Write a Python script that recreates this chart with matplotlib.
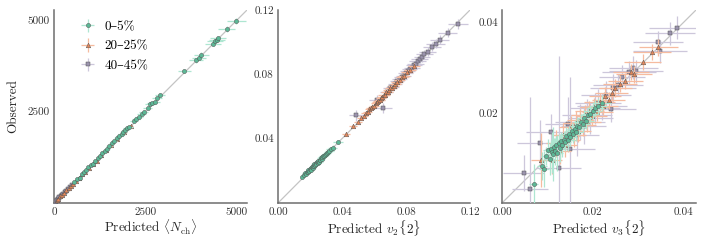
import matplotlib
matplotlib.use("Agg")
import matplotlib.pyplot as plt
import numpy as np

# ---------------- data ----------------
labels = ["0–5%", "20–25%", "40–45%"]

# Panel 1: <N_ch>
nch_g_pred = [560, 630, 700, 760, 820, 880, 940, 1000, 1060, 1130, 1200, 1260, 1320, 1390, 1450, 1510, 1580, 1650, 1720, 1790,
              1850, 1900, 1950, 2000, 2060, 2180, 2250, 2330, 2400, 2460, 2560, 2620, 2690, 2750, 2820, 2900, 3560, 3880, 3960, 4030,
              4340, 4400, 4450, 4490, 4720, 4990]
nch_g_obs = [575, 650, 690, 790, 850, 900, 980, 1030, 1080, 1150, 1230, 1290, 1360, 1420, 1470, 1560, 1630, 1700, 1770, 1830,
             1880, 1950, 1990, 2050, 2080, 2250, 2290, 2360, 2440, 2500, 2600, 2700, 2730, 2760, 2860, 2960, 3610, 3900, 3980, 4060,
             4360, 4420, 4470, 4510, 4760, 4980]
nch_g_xerr = [30, 32, 35, 38, 41, 44, 47, 50, 53, 57, 60, 63, 66, 70, 73, 76, 79, 83, 86, 90,
              93, 95, 98, 100, 103, 109, 113, 117, 120, 123, 128, 131, 135, 138, 141, 145, 178, 194, 198, 202,
              217, 220, 223, 225, 236, 250]
nch_g_yerr = [8, 9, 10, 11, 12, 13, 14, 15, 16, 17, 18, 19, 20, 21, 22, 23, 24, 25, 26, 27,
              28, 28, 29, 30, 31, 33, 34, 35, 36, 37, 38, 39, 40, 41, 42, 43, 53, 58, 59, 60,
              65, 66, 67, 67, 71, 75]

nch_o_pred = [70, 120, 170, 220, 280, 340, 400, 460, 530, 600, 680, 760, 850, 950, 1060, 1170, 1290, 1420, 1560, 1720, 1920, 2100]
nch_o_obs = [75, 115, 180, 230, 285, 350, 410, 470, 520, 615, 690, 780, 860, 960, 1080, 1160, 1300, 1440, 1580, 1740, 1950, 2110]
nch_o_xerr = [3, 5, 6, 8, 10, 12, 14, 16, 18, 20, 23, 26, 29, 32, 36, 40, 44, 48, 53, 58, 65, 71]
nch_o_yerr = [1, 2, 2, 3, 3, 4, 5, 5, 6, 7, 8, 9, 10, 11, 12, 13, 14, 16, 17, 19, 21, 23]

nch_p_pred = [20, 35, 55, 75, 100, 125, 150, 180, 215, 250, 290, 335, 380, 430, 490]
nch_p_obs = [22, 38, 52, 80, 98, 130, 155, 178, 220, 255, 295, 330, 390, 440, 500]
nch_p_xerr = [1, 1, 2, 2, 3, 4, 5, 5, 6, 8, 9, 10, 11, 13, 15]
nch_p_yerr = [1, 1, 1, 1, 1, 2, 2, 2, 3, 3, 3, 4, 4, 5, 5]

# Panel 2: v2{2}
v2_g_pred = [0.0150, 0.0160, 0.0168, 0.0175, 0.0180, 0.0186, 0.0190, 0.0195, 0.0200, 0.0204, 0.0208, 0.0212, 0.0216,
             0.0220, 0.0224, 0.0228, 0.0232, 0.0236, 0.0240, 0.0244, 0.0248, 0.0252, 0.0256, 0.0260, 0.0264, 0.0268,
             0.0272, 0.0277, 0.0282, 0.0287, 0.0292, 0.0298, 0.0305, 0.0312, 0.0320, 0.0330, 0.0342, 0.0375]
v2_g_obs = [0.0160, 0.0172, 0.0185, 0.0178, 0.0195, 0.0190, 0.0205, 0.0198, 0.0210, 0.0215, 0.0206, 0.0225, 0.0218,
            0.0232, 0.0228, 0.0240, 0.0235, 0.0248, 0.0243, 0.0255, 0.0250, 0.0262, 0.0258, 0.0270, 0.0266, 0.0278,
            0.0275, 0.0285, 0.0290, 0.0293, 0.0300, 0.0305, 0.0310, 0.0318, 0.0325, 0.0335, 0.0345, 0.0380]
v2_g_xerr = [0.0015, 0.0015, 0.0016, 0.0016, 0.0017, 0.0017, 0.0017, 0.0018, 0.0018, 0.0018, 0.0019, 0.0019, 0.0019,
             0.0020, 0.0020, 0.0020, 0.0021, 0.0021, 0.0021, 0.0022, 0.0022, 0.0022, 0.0023, 0.0023, 0.0023, 0.0024,
             0.0024, 0.0024, 0.0025, 0.0025, 0.0025, 0.0026, 0.0026, 0.0027, 0.0027, 0.0028, 0.0028, 0.0030]
v2_g_yerr = [0.0006, 0.0006, 0.0006, 0.0007, 0.0007, 0.0007, 0.0007, 0.0008, 0.0008, 0.0008, 0.0008, 0.0008, 0.0009,
             0.0009, 0.0009, 0.0009, 0.0009, 0.0009, 0.0010, 0.0010, 0.0010, 0.0010, 0.0010, 0.0010, 0.0011, 0.0011,
             0.0011, 0.0011, 0.0011, 0.0011, 0.0012, 0.0012, 0.0012, 0.0012, 0.0013, 0.0013, 0.0013, 0.0014]

v2_o_pred = [0.0425, 0.0470, 0.0500, 0.0520, 0.0535, 0.0548, 0.0560, 0.0570, 0.0580, 0.0590, 0.0600, 0.0610, 0.0618,
             0.0626, 0.0635, 0.0643, 0.0652, 0.0660, 0.0668, 0.0676, 0.0685, 0.0693, 0.0702, 0.0712, 0.0722, 0.0732,
             0.0745, 0.0760, 0.0775, 0.0790, 0.0805, 0.0825, 0.0850]
v2_o_obs = [0.0430, 0.0480, 0.0505, 0.0530, 0.0540, 0.0560, 0.0565, 0.0582, 0.0588, 0.0600, 0.0605, 0.0620, 0.0625,
            0.0635, 0.0640, 0.0655, 0.0658, 0.0670, 0.0672, 0.0688, 0.0690, 0.0700, 0.0712, 0.0718, 0.0730, 0.0738,
            0.0752, 0.0765, 0.0782, 0.0792, 0.0812, 0.0828, 0.0852]
v2_o_xerr = [0.0025, 0.0026, 0.0027, 0.0027, 0.0028, 0.0028, 0.0029, 0.0029, 0.0029, 0.0030, 0.0030, 0.0030, 0.0031,
             0.0031, 0.0031, 0.0032, 0.0032, 0.0032, 0.0033, 0.0033, 0.0033, 0.0034, 0.0034, 0.0034, 0.0035, 0.0035,
             0.0036, 0.0036, 0.0037, 0.0037, 0.0038, 0.0038, 0.0039]
v2_o_yerr = [0.0012, 0.0012, 0.0012, 0.0013, 0.0013, 0.0013, 0.0013, 0.0013, 0.0014, 0.0014, 0.0014, 0.0014, 0.0014,
             0.0015, 0.0015, 0.0015, 0.0015, 0.0015, 0.0015, 0.0016, 0.0016, 0.0016, 0.0016, 0.0016, 0.0017, 0.0017,
             0.0017, 0.0017, 0.0018, 0.0018, 0.0018, 0.0019, 0.0019]

v2_p_pred = [0.0490, 0.0620, 0.0655, 0.0680, 0.0700, 0.0715, 0.0730, 0.0745, 0.0760, 0.0772, 0.0785, 0.0798, 0.0810,
             0.0822, 0.0835, 0.0848, 0.0860, 0.0872, 0.0885, 0.0900, 0.0915, 0.0935, 0.0960, 0.0985, 0.1010, 0.1060, 0.1125]
v2_p_obs = [0.0545, 0.0640, 0.0590, 0.0690, 0.0715, 0.0722, 0.0742, 0.0758, 0.0770, 0.0785, 0.0790, 0.0810, 0.0818,
            0.0835, 0.0840, 0.0858, 0.0862, 0.0880, 0.0895, 0.0905, 0.0925, 0.0940, 0.0970, 0.0990, 0.1015, 0.1060, 0.1110]
v2_p_xerr = [0.0045, 0.0050, 0.0055, 0.0040, 0.0042, 0.0043, 0.0044, 0.0045, 0.0046, 0.0046, 0.0047, 0.0048, 0.0048,
             0.0049, 0.0050, 0.0050, 0.0051, 0.0052, 0.0052, 0.0053, 0.0054, 0.0055, 0.0056, 0.0057, 0.0058, 0.0060, 0.0062]
v2_p_yerr = [0.0035, 0.0030, 0.0030, 0.0022, 0.0022, 0.0022, 0.0023, 0.0023, 0.0023, 0.0024, 0.0024, 0.0024, 0.0025,
             0.0025, 0.0025, 0.0026, 0.0026, 0.0026, 0.0027, 0.0027, 0.0027, 0.0028, 0.0028, 0.0029, 0.0029, 0.0030, 0.0031]

# Panel 3: v3{2}
v3_g_pred = [0.0070, 0.0088, 0.0092, 0.0098, 0.0102, 0.0105, 0.0108, 0.0110, 0.0112, 0.0115, 0.0118, 0.0120, 0.0122,
             0.0125, 0.0128, 0.0130, 0.0133, 0.0136, 0.0139, 0.0142, 0.0145, 0.0148, 0.0151, 0.0154, 0.0157, 0.0160,
             0.0163, 0.0166, 0.0170, 0.0174, 0.0178, 0.0182, 0.0186, 0.0190, 0.0195, 0.0200, 0.0206, 0.0212, 0.0220]
v3_g_obs = [0.0042, 0.0082, 0.0075, 0.0105, 0.0118, 0.0098, 0.0120, 0.0112, 0.0108, 0.0125, 0.0115, 0.0128, 0.0110,
            0.0132, 0.0122, 0.0138, 0.0128, 0.0140, 0.0135, 0.0148, 0.0140, 0.0152, 0.0146, 0.0160, 0.0152, 0.0165,
            0.0158, 0.0170, 0.0168, 0.0180, 0.0175, 0.0188, 0.0182, 0.0195, 0.0198, 0.0205, 0.0210, 0.0215, 0.0222]
v3_g_xerr = [0.0010, 0.0011, 0.0011, 0.0011, 0.0012, 0.0012, 0.0012, 0.0012, 0.0012, 0.0013, 0.0013, 0.0013, 0.0013,
             0.0013, 0.0014, 0.0014, 0.0014, 0.0014, 0.0014, 0.0015, 0.0015, 0.0015, 0.0015, 0.0015, 0.0016, 0.0016,
             0.0016, 0.0016, 0.0017, 0.0017, 0.0017, 0.0017, 0.0018, 0.0018, 0.0018, 0.0019, 0.0019, 0.0019, 0.0020]
v3_g_yerr = [0.0045, 0.0030, 0.0040, 0.0020, 0.0025, 0.0035, 0.0020, 0.0045, 0.0060, 0.0020, 0.0030, 0.0020, 0.0040,
             0.0020, 0.0030, 0.0020, 0.0025, 0.0020, 0.0020, 0.0020, 0.0025, 0.0018, 0.0020, 0.0018, 0.0020, 0.0018,
             0.0020, 0.0018, 0.0018, 0.0018, 0.0018, 0.0018, 0.0018, 0.0018, 0.0018, 0.0018, 0.0018, 0.0018, 0.0018]

v3_o_pred = [0.0085, 0.0110, 0.0120, 0.0128, 0.0135, 0.0140, 0.0146, 0.0152, 0.0158, 0.0163, 0.0168, 0.0173, 0.0178,
             0.0183, 0.0188, 0.0193, 0.0198, 0.0204, 0.0210, 0.0216, 0.0222, 0.0228, 0.0235, 0.0242, 0.0250, 0.0260,
             0.0272, 0.0285, 0.0292, 0.0310, 0.0330, 0.0345]
v3_o_obs = [0.0095, 0.0095, 0.0132, 0.0115, 0.0150, 0.0128, 0.0140, 0.0168, 0.0150, 0.0178, 0.0160, 0.0185, 0.0172,
            0.0195, 0.0180, 0.0205, 0.0192, 0.0212, 0.0202, 0.0225, 0.0215, 0.0238, 0.0228, 0.0245, 0.0255, 0.0265,
            0.0270, 0.0290, 0.0285, 0.0312, 0.0335, 0.0345]
v3_o_xerr = [0.0020, 0.0022, 0.0023, 0.0024, 0.0025, 0.0025, 0.0026, 0.0027, 0.0028, 0.0028, 0.0029, 0.0030, 0.0030,
             0.0031, 0.0031, 0.0032, 0.0033, 0.0033, 0.0034, 0.0034, 0.0035, 0.0035, 0.0036, 0.0037, 0.0037, 0.0038,
             0.0039, 0.0040, 0.0040, 0.0041, 0.0042, 0.0043]
v3_o_yerr = [0.0060, 0.0030, 0.0030, 0.0028, 0.0028, 0.0027, 0.0027, 0.0026, 0.0026, 0.0025, 0.0025, 0.0024, 0.0024,
             0.0023, 0.0023, 0.0022, 0.0022, 0.0021, 0.0021, 0.0020, 0.0020, 0.0020, 0.0019, 0.0019, 0.0019, 0.0018,
             0.0018, 0.0018, 0.0018, 0.0018, 0.0018, 0.0018]

v3_p_pred = [0.0048, 0.0062, 0.0083, 0.0107, 0.0125, 0.0145, 0.0150, 0.0165, 0.0172, 0.0180, 0.0188, 0.0195, 0.0205,
             0.0212, 0.0220, 0.0230, 0.0240, 0.0245, 0.0255, 0.0265, 0.0280, 0.0290, 0.0295, 0.0345, 0.0348, 0.0370, 0.0385]
v3_p_obs = [0.0066, 0.0031, 0.0134, 0.0157, 0.0077, 0.0175, 0.0120, 0.0150, 0.0180, 0.0170, 0.0195, 0.0188, 0.0210,
            0.0222, 0.0215, 0.0240, 0.0209, 0.0255, 0.0262, 0.0280, 0.0290, 0.0300, 0.0292, 0.0356, 0.0336, 0.0376, 0.0389]
v3_p_xerr = [0.0045, 0.0040, 0.0050, 0.0055, 0.0050, 0.0050, 0.0055, 0.0050, 0.0055, 0.0050, 0.0055, 0.0050, 0.0055,
             0.0050, 0.0055, 0.0055, 0.0055, 0.0050, 0.0055, 0.0050, 0.0060, 0.0055, 0.0060, 0.0055, 0.0060, 0.0055, 0.0060]
v3_p_yerr = [0.0040, 0.0205, 0.0050, 0.0040, 0.0250, 0.0060, 0.0160, 0.0045, 0.0040, 0.0040, 0.0035, 0.0035, 0.0035,
             0.0030, 0.0030, 0.0030, 0.0030, 0.0030, 0.0025, 0.0025, 0.0025, 0.0025, 0.0025, 0.0025, 0.0025, 0.0025, 0.0025]

# ---------------- style ----------------
plt.rcParams['font.family'] = ['cmr10', 'DejaVu Serif']
plt.rcParams['mathtext.fontset'] = 'cm'
plt.rcParams['axes.unicode_minus'] = False

mcolors = ['#5cb896', '#e5875a', '#9a93ad']
ecolors = ['#aee6d1', '#f6bb9f', '#cdc7db']
markers = ['o', '^', 's']
spine_col = '#6e6e6e'

fig = plt.figure(figsize=(7.06, 2.40), dpi=100)
axes = [fig.add_axes([54/706, 37/240, 193/706, 193/240]),
        fig.add_axes([278/706, 37/240, 192/706, 193/240]),
        fig.add_axes([502/706, 37/240, 194/706, 193/240])]

panels = [
    dict(data=[(nch_g_pred, nch_g_obs, nch_g_xerr, nch_g_yerr),
               (nch_o_pred, nch_o_obs, nch_o_xerr, nch_o_yerr),
               (nch_p_pred, nch_p_obs, nch_p_xerr, nch_p_yerr)],
         lim=5280, xticks=[0, 2500, 5000], yticks=[2500, 5000], fmt='{:.0f}',
         xlabel=r'Predicted $\langle N_{\rm ch}\rangle$'),
    dict(data=[(v2_g_pred, v2_g_obs, v2_g_xerr, v2_g_yerr),
               (v2_o_pred, v2_o_obs, v2_o_xerr, v2_o_yerr),
               (v2_p_pred, v2_p_obs, v2_p_xerr, v2_p_yerr)],
         lim=0.12, xticks=[0, 0.04, 0.08, 0.12], yticks=[0.04, 0.08, 0.12], fmt='{:.2f}',
         xlabel=r'Predicted $v_2\{2\}$'),
    dict(data=[(v3_g_pred, v3_g_obs, v3_g_xerr, v3_g_yerr),
               (v3_o_pred, v3_o_obs, v3_o_xerr, v3_o_yerr),
               (v3_p_pred, v3_p_obs, v3_p_xerr, v3_p_yerr)],
         lim=0.0428, xticks=[0, 0.02, 0.04], yticks=[0.02, 0.04], fmt='{:.2f}',
         xlabel=r'Predicted $v_3\{2\}$'),
]

handles = []
for ax, p in zip(axes, panels):
    lim = p['lim']
    ax.plot([0, lim], [0, lim], color='#c4c4c4', lw=0.9, zorder=1)
    for i in [2, 1, 0]:
        x, y, xe, ye = p['data'][i]
        h = ax.errorbar(x, y, xerr=xe, yerr=ye, fmt=markers[i],
                        ms=3.0 if i != 1 else 3.3,
                        mfc=mcolors[i], mec='#555555', mew=0.35,
                        ecolor=ecolors[i], elinewidth=0.9, capsize=0,
                        zorder=3 + (2 - i), label=labels[i])
        if ax is axes[0]:
            handles.append(h)
    ax.set_xlim(0, lim)
    ax.set_ylim(0, lim)
    ax.set_xticks(p['xticks'])
    ax.set_yticks(p['yticks'])
    ax.set_xticklabels([p['fmt'].format(t) for t in p['xticks']])
    ax.set_yticklabels([p['fmt'].format(t) for t in p['yticks']])
    ax.tick_params(length=0, labelsize=8, pad=3, colors='#333333')
    for s in ['top', 'right']:
        ax.spines[s].set_visible(False)
    for s in ['left', 'bottom']:
        ax.spines[s].set_color(spine_col)
        ax.spines[s].set_linewidth(1.1)
    ax.set_xlabel(p['xlabel'], fontsize=9.5, labelpad=1, color='#222222')

axes[0].set_ylabel('Observed', fontsize=9.5, labelpad=6, color='#222222')
handles = handles[::-1]
axes[0].legend(handles=handles, labels=labels, loc='upper left', frameon=False,
               fontsize=9.5, handlelength=1.3, handletextpad=0.6, labelspacing=0.55,
               borderaxespad=0.2, bbox_to_anchor=(0.09, 0.985))

fig.savefig('out.png', dpi=100)
